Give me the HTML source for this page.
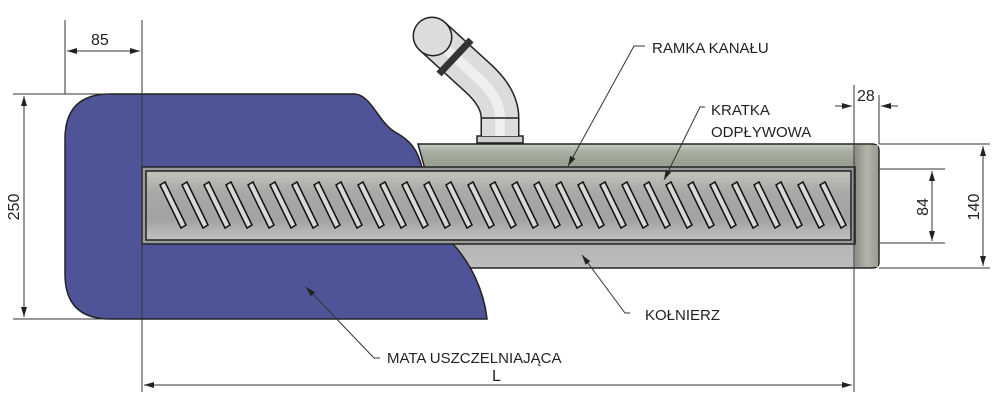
<!DOCTYPE html>
<html><head><meta charset="utf-8"><style>
html,body{margin:0;padding:0;background:#fff;}
svg{display:block;}
text{font-family:"Liberation Sans","DejaVu Sans",sans-serif;fill:#222;}
</style></head><body>
<svg width="1000" height="410" viewBox="0 0 1000 410" xmlns="http://www.w3.org/2000/svg">
<defs>
<linearGradient id="fl" x1="0" y1="0" x2="0" y2="1">
<stop offset="0" stop-color="#c8ccc6"/><stop offset="0.06" stop-color="#a9b0a2"/><stop offset="0.16" stop-color="#96a08e"/><stop offset="0.24" stop-color="#b0b4ac"/><stop offset="0.75" stop-color="#b2b2b2"/><stop offset="1" stop-color="#bdbdbd"/>
</linearGradient>
<linearGradient id="gr" x1="0" y1="0" x2="0" y2="1">
<stop offset="0" stop-color="#c2c4bc"/><stop offset="0.3" stop-color="#a8aaa6"/><stop offset="0.7" stop-color="#a2a2a2"/><stop offset="1" stop-color="#c2c2c2"/>
</linearGradient>
<linearGradient id="rc" x1="0" y1="0" x2="1" y2="0">
<stop offset="0" stop-color="#8a8c82"/><stop offset="0.5" stop-color="#b4b4a8"/><stop offset="1" stop-color="#9a9c94"/>
</linearGradient>
<marker id="a" markerWidth="10" markerHeight="6" refX="10" refY="3" orient="auto" markerUnits="userSpaceOnUse"><path d="M0,0 L10,3 L0,6 z" fill="#222"/></marker>
<marker id="as" markerWidth="10" markerHeight="6" refX="0" refY="3" orient="auto" markerUnits="userSpaceOnUse"><path d="M10,0 L0,3 L10,6 z" fill="#222"/></marker>
</defs>

<path d="M418,144 H872 Q879,144 879,151 V262 Q879,268 872,268 H452 Z" fill="url(#fl)" stroke="#222" stroke-width="1.5"/>
<rect x="855" y="145" width="23" height="122" fill="url(#rc)"/>

<path d="M110,94 H355 C372,96 378,122 395,132 C410,140 418,150 422,168 L452,243 C470,262 484,290 487,319 H110 Q65,319 65,274 V139 Q65,94 110,94 Z" fill="#4f5499" stroke="#222" stroke-width="1.5"/>

<rect x="142" y="167" width="713" height="77" fill="#9a9a9a" stroke="#222" stroke-width="1.5"/>
<rect x="146" y="171" width="705" height="69" fill="url(#gr)" stroke="#222" stroke-width="1.5"/>
<g fill="#d8d8d8" stroke="#111" stroke-width="1.5">
<polygon points="160,185 165,182 186,225 181,228"/><polygon points="182,185 187,182 208,225 203,228"/><polygon points="204,185 209,182 230,225 225,228"/><polygon points="226,185 231,182 252,225 247,228"/><polygon points="248,185 253,182 274,225 269,228"/><polygon points="270,185 275,182 296,225 291,228"/><polygon points="292,185 297,182 318,225 313,228"/><polygon points="314,185 319,182 340,225 335,228"/><polygon points="336,185 341,182 362,225 357,228"/><polygon points="358,185 363,182 384,225 379,228"/><polygon points="380,185 385,182 406,225 401,228"/><polygon points="402,185 407,182 428,225 423,228"/><polygon points="424,185 429,182 450,225 445,228"/><polygon points="446,185 451,182 472,225 467,228"/><polygon points="468,185 473,182 494,225 489,228"/><polygon points="490,185 495,182 516,225 511,228"/><polygon points="512,185 517,182 538,225 533,228"/><polygon points="534,185 539,182 560,225 555,228"/><polygon points="556,185 561,182 582,225 577,228"/><polygon points="578,185 583,182 604,225 599,228"/><polygon points="600,185 605,182 626,225 621,228"/><polygon points="622,185 627,182 648,225 643,228"/><polygon points="644,185 649,182 670,225 665,228"/><polygon points="666,185 671,182 692,225 687,228"/><polygon points="688,185 693,182 714,225 709,228"/><polygon points="710,185 715,182 736,225 731,228"/><polygon points="732,185 737,182 758,225 753,228"/><polygon points="754,185 759,182 780,225 775,228"/><polygon points="776,185 781,182 802,225 797,228"/><polygon points="798,185 803,182 824,225 819,228"/><polygon points="820,185 825,182 846,225 841,228"/>
</g>

<!-- pipe -->
<rect x="477" y="136" width="46" height="7" fill="#ccc" stroke="#222" stroke-width="1.5"/>
<path d="M432,36 L478,78 Q500,98 500,118 V136" fill="none" stroke="#222" stroke-width="39" stroke-linejoin="round"/>
<path d="M432,36 L478,78 Q500,98 500,118 V136" fill="none" stroke="#dcdcdc" stroke-width="36"/>
<path d="M436,40 L478,78 Q500,98 500,118 V136" fill="none" stroke="#efefef" stroke-width="10"/>
<line x1="432" y1="36" x2="433" y2="37" stroke="#222" stroke-width="39" stroke-linecap="round"/>
<line x1="432" y1="36" x2="433" y2="37" stroke="#dcdcdc" stroke-width="36" stroke-linecap="round"/>
<line x1="471" y1="40" x2="439" y2="74" stroke="#333" stroke-width="7"/>
<line x1="482" y1="118" x2="518" y2="118" stroke="#222" stroke-width="1.5"/>

<g stroke="#333" stroke-width="1" fill="none">
<line x1="65" y1="20" x2="65" y2="94"/>
<line x1="142" y1="20" x2="142" y2="392"/>
<line x1="67" y1="51" x2="140" y2="51" marker-end="url(#a)" marker-start="url(#as)"/>
<line x1="13" y1="94" x2="110" y2="94"/>
<line x1="13" y1="319" x2="110" y2="319"/>
<line x1="24" y1="96" x2="24" y2="317" marker-end="url(#a)" marker-start="url(#as)"/>
<line x1="854" y1="85" x2="854" y2="392"/>
<line x1="879" y1="95" x2="879" y2="144"/>
<line x1="835" y1="106" x2="852" y2="106" marker-end="url(#a)"/>
<line x1="898" y1="106" x2="881" y2="106" marker-end="url(#a)"/>
<line x1="879" y1="169" x2="945" y2="169"/>
<line x1="879" y1="243" x2="945" y2="243"/>
<line x1="932" y1="171" x2="932" y2="241" marker-end="url(#a)" marker-start="url(#as)"/>
<line x1="879" y1="144" x2="990" y2="144"/>
<line x1="879" y1="268" x2="990" y2="268"/>
<line x1="983" y1="146" x2="983" y2="266" marker-end="url(#a)" marker-start="url(#as)"/>
<line x1="144" y1="385" x2="852" y2="385" marker-end="url(#a)" marker-start="url(#as)"/>
<path d="M645,46 H634 L568,166" marker-end="url(#a)"/>
<path d="M705,107 H700 L664,180" marker-end="url(#a)"/>
<path d="M630,313 H625 L582,255" marker-end="url(#a)"/>
<path d="M380,358 H374 L306,287" marker-end="url(#a)"/>
</g>

<g font-size="16">
<text x="91" y="45">85</text>
<text x="857" y="101">28</text>
<text transform="translate(19,207) rotate(-90)" text-anchor="middle">250</text>
<text transform="translate(928,207) rotate(-90)" text-anchor="middle">84</text>
<text transform="translate(979,207) rotate(-90)" text-anchor="middle">140</text>
<text x="492" y="381">L</text>
<text x="652" y="53" font-size="15">RAMKA KANAŁU</text>
<text x="711" y="115" font-size="15">KRATKA</text>
<text x="711" y="137" font-size="15">ODPŁYWOWA</text>
<text x="645" y="320" font-size="15">KOŁNIERZ</text>
<text x="387" y="363" font-size="15">MATA USZCZELNIAJĄCA</text>
</g>
</svg>
</body></html>
